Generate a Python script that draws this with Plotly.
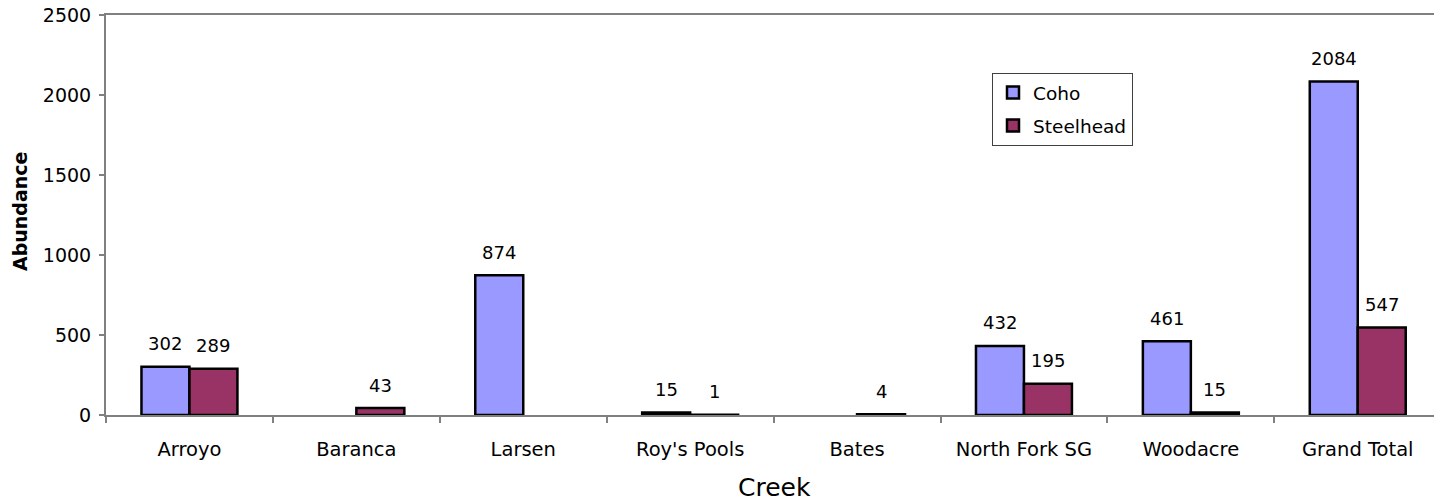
import plotly.graph_objects as go

creeks = ["Arroyo", "Baranca", "Larsen", "Roy's Pools", "Bates", "North Fork SG", "Woodacre", "Grand Total"]
coho = [302, None, 874, 15, None, 432, 461, 2084]
steelhead = [289, 43, None, 1, 4, 195, 15, 547]
y_ticks = [0, 500, 1000, 1500, 2000, 2500]

FONT = "DejaVu Sans"

fig = go.Figure()
fig.add_trace(go.Bar(name="Coho", x=creeks, y=coho, marker=dict(color="#9999FF", line=dict(color="black", width=2.5)),
                     legendgroup="a"))
fig.add_trace(go.Bar(name="Steelhead", x=creeks, y=steelhead, marker=dict(color="#993366", line=dict(color="black", width=2.5)),
                     legendgroup="b"))

annotations = []
for series, shift in ((coho, -24), (steelhead, 24)):
    for c, v in zip(creeks, series):
        if v is None:
            continue
        annotations.append(dict(x=c, y=v, xref="x", yref="y", text=str(v), showarrow=False,
                                xshift=shift, yshift=23, yanchor="middle",
                                font=dict(family=FONT, size=18, color="black")))

annotations.append(dict(x=(774 - 106) / 1328, y=(415 - 487) / 400, xref="paper", yref="paper",
                        text="Creek", showarrow=False, xanchor="center", yanchor="middle",
                        font=dict(family=FONT, size=25, color="black")))
annotations.append(dict(x=(20 - 106) / 1328, y=(415 - 212) / 400, xref="paper", yref="paper",
                        text="<b>Abundance</b>", showarrow=False, xanchor="center", yanchor="middle",
                        textangle=-90, font=dict(family=FONT, size=19, color="black")))

fig.update_layout(
    width=1434, height=504,
    margin=dict(l=106, r=0, t=15, b=89),
    paper_bgcolor="white", plot_bgcolor="white",
    barmode="group", bargap=0.425, bargroupgap=0,
    font=dict(family=FONT, size=19, color="black"),
    annotations=annotations,
    showlegend=True,
    legend=dict(x=(992 - 106) / 1328, y=(415 - 73) / 400, xanchor="left", yanchor="top",
                bgcolor="white", bordercolor="#404040", borderwidth=1,
                font=dict(family=FONT, size=18.5, color="black"),
                tracegroupgap=6, traceorder="grouped"),
)
fig.update_xaxes(type="category", categoryorder="array", categoryarray=creeks,
                 range=[-0.5, -0.5 + (1434 - 106) / 166.9],
                 showline=True, linecolor="#808080", linewidth=2, mirror=True,
                 ticks="outside", tickson="boundaries", ticklen=6, tickcolor="#808080", tickwidth=1.5,
                 ticklabelstandoff=16, showgrid=False,
                 tickfont=dict(family=FONT, size=19.5, color="black"))
fig.update_yaxes(range=[0, 2500], tickvals=y_ticks, showline=True, linecolor="#808080", linewidth=2,
                 ticks="outside", ticklen=5, tickcolor="#808080", tickwidth=1.5, showgrid=False,
                 zeroline=False, ticklabelstandoff=4,
                 tickfont=dict(family=FONT, size=19, color="black"))

fig.write_html("out.html")
